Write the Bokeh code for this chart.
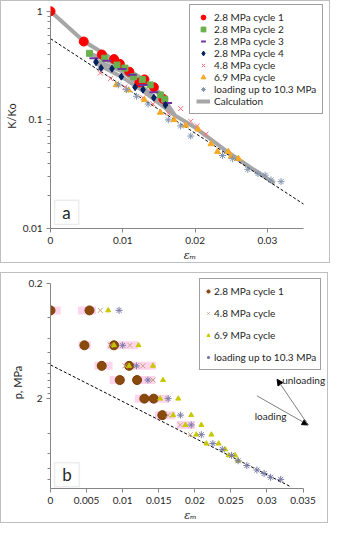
from bokeh.plotting import figure
from bokeh.models import (Range1d, FixedTicker, Legend, LegendItem, Label, BoxAnnotation,
                          Arrow, NormalHead, CustomJSTickFormatter)
from bokeh.layouts import column
from bokeh.embed import file_html
from bokeh.resources import INLINE

# ---------------- Panel a data (K/Ko vs eps_m) ----------------
a_c1_eps = [0, 0.0046, 0.0071, 0.0088, 0.0096, 0.0109, 0.0123, 0.0130, 0.0143, 0.0156]
a_c1_k = [1.0, 0.527, 0.40, 0.363, 0.328, 0.278, 0.221, 0.236, 0.20, 0.156]
a_c2_eps = [0.0054, 0.0075, 0.0092, 0.0103, 0.0115, 0.0127, 0.0138, 0.0152, 0.0158]
a_c2_k = [0.41, 0.37, 0.32, 0.30, 0.25, 0.235, 0.21, 0.17, 0.155]
a_c3_eps = [0.0060, 0.0078, 0.0099, 0.0113, 0.0128, 0.0143, 0.0162]
a_c3_k = [0.37, 0.35, 0.295, 0.26, 0.21, 0.18, 0.143]
a_c4_eps = [0.0063, 0.0070, 0.0085, 0.0098, 0.0117, 0.0128, 0.0143, 0.0159]
a_c4_k = [0.34, 0.30, 0.296, 0.25, 0.20, 0.19, 0.16, 0.137]
a_48_eps = [0.0069, 0.0083, 0.0103, 0.0128, 0.0142, 0.0163, 0.0180, 0.0194, 0.0203, 0.0215]
a_48_k = [0.27, 0.24, 0.20, 0.16, 0.14, 0.115, 0.127, 0.097, 0.088, 0.074]
a_69_eps = [0.0091, 0.0108, 0.0130, 0.0152, 0.0171, 0.0187, 0.0204, 0.0222, 0.0231, 0.0246, 0.0250, 0.0260]
a_69_k = [0.21, 0.188, 0.153, 0.117, 0.100, 0.089, 0.082, 0.060, 0.051, 0.051, 0.046, 0.044]
a_ld_eps = [0.0094, 0.0105, 0.0119, 0.0135, 0.0163, 0.0180, 0.0194, 0.0238, 0.0252, 0.0273, 0.0287, 0.0297, 0.0305, 0.0319]
a_ld_k = [0.21, 0.19, 0.165, 0.14, 0.10, 0.088, 0.071, 0.047, 0.044, 0.035, 0.032, 0.031, 0.028, 0.027]
calc1_eps = [0, 0.0046, 0.0071, 0.0096, 0.0123, 0.0143, 0.0172]
calc1_k = [1.0, 0.53, 0.42, 0.33, 0.24, 0.20, 0.11]
calc2_eps = [0.0054, 0.0075, 0.0103, 0.0127, 0.0152, 0.0172]
calc2_k = [0.41, 0.36, 0.30, 0.24, 0.175, 0.11]
calc3_eps = [0.0060, 0.0099, 0.0128, 0.0172]
calc3_k = [0.36, 0.28, 0.20, 0.11]
calc5_eps = [0.0063, 0.0098, 0.0128, 0.0172]
calc5_k = [0.33, 0.25, 0.185, 0.11]
calc4_eps = [0.0172, 0.0200, 0.0250, 0.0310]
calc4_k = [0.11, 0.085, 0.048, 0.026]
a_fit_eps = [0, 0.035]
a_fit_k = [0.56, 0.0168]

a_xticks = [0, 0.01, 0.02, 0.03]
a_yticks = [0.01, 0.1, 1]
a_yminor = [0.02, 0.03, 0.04, 0.05, 0.06, 0.07, 0.08, 0.09, 0.2, 0.3, 0.4, 0.5, 0.6, 0.7, 0.8, 0.9]

# ---------------- Panel b data (p vs eps_m) ----------------
b_c1_eps = [0, 0.0054, 0.0047, 0.0088, 0.0071, 0.0109, 0.0096, 0.0120, 0.0130, 0.0143, 0.0155]
b_c1_p = [0.344, 0.344, 0.69, 0.69, 1.04, 1.04, 1.38, 1.38, 2.0, 2.0, 2.78]
b_48_eps = [0.0069, 0.0083, 0.0110, 0.0103, 0.0128, 0.0142, 0.0163, 0.0180, 0.0194]
b_48_p = [0.344, 0.69, 0.69, 1.04, 1.04, 1.38, 2.78, 3.38, 4.1]
b_69_eps = [0.0080, 0.0088, 0.0122, 0.0109, 0.0142, 0.0156, 0.0152, 0.0177, 0.0170, 0.0195,
            0.0187, 0.0209, 0.0202, 0.0223, 0.0216, 0.0233, 0.0242, 0.0247, 0.0256, 0.0260]
b_69_p = [0.344, 0.69, 0.69, 1.04, 1.04, 1.38, 2.0, 2.0, 2.78, 2.78,
          3.38, 3.38, 4.1, 4.1, 4.9, 4.9, 5.5, 6.2, 6.2, 6.9]
b_ld_eps = [0.0095, 0.0100, 0.0119, 0.0135, 0.0163, 0.0180, 0.0195, 0.0209, 0.0225, 0.0238,
            0.0251, 0.0260, 0.0272, 0.0286, 0.0296, 0.0305, 0.0319]
b_ld_p = [0.344, 0.69, 1.04, 1.38, 2.0, 2.78, 3.38, 4.1, 4.9, 5.5,
          6.2, 6.9, 7.6, 8.3, 8.9, 9.6, 10.0]
band_start = [-0.0007, 0.0038, 0.0039, 0.0079, 0.0061, 0.0103, 0.0082, 0.0114, 0.0117, 0.0145, 0.0175]
band_end = [0.0014, 0.0063, 0.0056, 0.0121, 0.0086, 0.0146, 0.0103, 0.0145, 0.0165, 0.0173, 0.0200]
band_p = [0.344, 0.344, 0.69, 0.69, 1.04, 1.04, 1.38, 1.38, 2.0, 2.78, 3.38]
b_fit_eps = [0, 0.0333]
b_fit_p = [1.02, 11.6]

b_xticks = [0, 0.005, 0.01, 0.015, 0.02, 0.025, 0.03, 0.035]
b_yticks = [0.2, 2]
b_yminor = [0.4, 0.6, 0.8, 1.0, 1.2, 1.4, 1.6, 1.8, 4, 6, 8, 10]

FONT = "Lato"
AX = "#868686"
TXT = "#262626"
fmt = CustomJSTickFormatter(code="return String(tick);")


def style_axes(p):
    p.grid.visible = False
    p.outline_line_color = None
    p.background_fill_color = "white"
    p.border_fill_color = "white"
    for ax in (p.xaxis[0], p.yaxis[0]):
        ax.axis_line_color = AX
        ax.major_tick_line_color = AX
        ax.minor_tick_line_color = AX
        ax.major_tick_out = 4
        ax.major_tick_in = 0
        ax.minor_tick_out = 3
        ax.minor_tick_in = 0
        ax.major_label_text_font = FONT
        ax.major_label_text_font_size = "10px"
        ax.major_label_text_color = TXT
        ax.axis_label_text_font = FONT
        ax.axis_label_text_font_size = "11px"
        ax.axis_label_text_font_style = "normal"
        ax.axis_label_text_color = TXT
        ax.axis_label_standoff = 2
        ax.formatter = fmt
    p.xaxis[0].minor_tick_line_color = None
    p.xaxis[0].major_label_standoff = 4
    p.yaxis[0].major_label_standoff = 4
    p.styles = {"border": "1px solid #bfbfbf"}


# ---------------- Figure a ----------------
p1 = figure(frame_width=277, frame_height=223, x_range=Range1d(0, 0.0386), y_range=Range1d(0.01, 1.18),
            y_axis_type="log", output_backend="svg", toolbar_location=None,
            min_border_left=47, min_border_right=2, min_border_top=2, min_border_bottom=33)
style_axes(p1)
p1.xaxis[0].ticker = FixedTicker(ticks=a_xticks)
p1.yaxis[0].ticker = FixedTicker(ticks=a_yticks, minor_ticks=a_yminor)
p1.xaxis[0].bounds = (0, 0.035)
p1.yaxis[0].bounds = (0.01, 1)
p1.xaxis[0].axis_label = "εₘ"
p1.xaxis[0].axis_label_text_font = "DejaVu Serif"
p1.xaxis[0].axis_label_text_font_style = "italic"
p1.yaxis[0].axis_label = "K/Ko"

CALC = "#a6a6a6"
rc = None
for ex, ky in ((calc1_eps, calc1_k), (calc2_eps, calc2_k), (calc3_eps, calc3_k),
               (calc5_eps, calc5_k), (calc4_eps, calc4_k)):
    r = p1.line(ex, ky, line_color=CALC, line_width=4)
    if rc is None:
        rc = r
p1.line(a_fit_eps, a_fit_k, line_color="black", line_width=1, line_dash="3 2")
r1 = p1.scatter(a_c1_eps, a_c1_k, marker="circle", size=9, fill_color="#ff0000", line_color="#ff0000")
r2 = p1.scatter(a_c2_eps, a_c2_k, marker="square", size=6, fill_color="#6ab04c", line_color="#6ab04c")
r3 = p1.scatter(a_c3_eps, a_c3_k, marker="dash", size=9, line_color="#7030a0", line_width=2)
r4 = p1.scatter(a_c4_eps, a_c4_k, marker="diamond", size=7, fill_color="#002060", line_color="#002060")
r5 = p1.scatter(a_48_eps, a_48_k, marker="x", size=7, line_color="#ff6f78", line_width=1)
r6 = p1.scatter(a_69_eps, a_69_k, marker="triangle", size=6, fill_color="#f7a823", line_color="#f7a823")
r7 = p1.scatter(a_ld_eps, a_ld_k, marker="asterisk", size=7, line_color="#8497b0", line_width=1)

leg1 = Legend(items=[
    LegendItem(label="2.8 MPa cycle 1", renderers=[r1]),
    LegendItem(label="2.8 MPa cycle 2", renderers=[r2]),
    LegendItem(label="2.8 MPa cycle 3", renderers=[r3]),
    LegendItem(label="2.8 MPa cycle 4", renderers=[r4]),
    LegendItem(label="4.8 MPa cycle", renderers=[r5]),
    LegendItem(label="6.9 MPa cycle", renderers=[r6]),
    LegendItem(label="loading up to 10.3 MPa", renderers=[r7]),
    LegendItem(label="Calculation", renderers=[rc]),
], location=(139, 114))
leg1.label_text_font = FONT
leg1.label_text_font_size = "10px"
leg1.label_text_color = TXT
leg1.label_height = 12
leg1.glyph_height = 12
leg1.glyph_width = 14
leg1.label_standoff = 4
leg1.spacing = 0
leg1.padding = 6
leg1.margin = 0
leg1.border_line_color = "#404040"
leg1.border_line_width = 1.5
leg1.background_fill_color = "white"
leg1.background_fill_alpha = 1
p1.add_layout(leg1)

p1.add_layout(BoxAnnotation(left=0.00056, right=0.0039, bottom=0.0109, top=0.0182,
                            fill_color="white", fill_alpha=1, line_color="#bfbfbf", line_width=1.5))
p1.add_layout(Label(x=0.0022, y=0.0139, text="a", text_align="center", text_baseline="middle",
                    text_font=FONT, text_font_size="17px", text_color=TXT))

# ---------------- Figure b ----------------
p2 = figure(frame_width=278, frame_height=210, x_range=Range1d(0, 0.0388), y_range=Range1d(12, 0.175),
            y_axis_type="log", output_backend="svg", toolbar_location=None,
            min_border_left=46, min_border_right=2, min_border_top=3, min_border_bottom=32)
style_axes(p2)
p2.xaxis[0].ticker = FixedTicker(ticks=b_xticks)
p2.yaxis[0].ticker = FixedTicker(ticks=b_yticks, minor_ticks=b_yminor)
p2.xaxis[0].bounds = (0, 0.035)
p2.yaxis[0].bounds = (0.2, 12)
p2.xaxis[0].axis_label = "εₘ"
p2.xaxis[0].axis_label_text_font = "DejaVu Serif"
p2.xaxis[0].axis_label_text_font_style = "italic"
p2.yaxis[0].axis_label = "p, MPa"

p2.segment(band_start, band_p, band_end, band_p, line_color="#ffd0ec", line_width=8, line_alpha=0.9)
p2.line(b_fit_eps, b_fit_p, line_color="black", line_width=1, line_dash="3 2")
s1 = p2.scatter(b_c1_eps, b_c1_p, marker="circle", size=9, fill_color="#8a4a0c", line_color="#7a3f08")
s2 = p2.scatter(b_48_eps, b_48_p, marker="x", size=7, line_color="#c9a48a", line_width=1)
s3 = p2.scatter(b_69_eps, b_69_p, marker="triangle", size=5, fill_color="#c8c800", line_color="#c8c800")
s4 = p2.scatter(b_ld_eps, b_ld_p, marker="asterisk", size=7, line_color="#7a7aa8", line_width=1)

leg2 = Legend(items=[
    LegendItem(label="2.8 MPa cycle 1", renderers=[s1]),
    LegendItem(label="4.8 MPa cycle", renderers=[s2]),
    LegendItem(label="6.9 MPa cycle", renderers=[s3]),
    LegendItem(label="loading up to 10.3 MPa", renderers=[s4]),
], location=(154, 118))
leg2.label_text_font = FONT
leg2.label_text_font_size = "10px"
leg2.label_text_color = TXT
leg2.label_height = 16
leg2.glyph_height = 16
leg2.glyph_width = 8
leg2.label_standoff = 2
leg2.spacing = 6
leg2.padding = 4
leg2.margin = 0
leg2.border_line_color = "#404040"
leg2.border_line_width = 1.5
leg2.background_fill_color = "white"
leg2.background_fill_alpha = 1
p2.add_layout(leg2)

p2.add_layout(Arrow(end=NormalHead(size=6, fill_color="black", line_color="black"),
                    x_start=0.0286, y_start=1.89, x_end=0.0357, y_end=3.38,
                    line_color="#7f7f7f", line_width=1))
p2.add_layout(Arrow(end=NormalHead(size=6, fill_color="black", line_color="black"),
                    x_start=0.0357, y_start=3.38, x_end=0.0314, y_end=1.36,
                    line_color="#7f7f7f", line_width=1))
p2.add_layout(Label(x=0.0321, y=1.38, text="unloading", text_align="left", text_baseline="middle",
                    text_font=FONT, text_font_size="10px", text_color=TXT))
p2.add_layout(Label(x=0.0305, y=2.83, text="loading", text_align="center", text_baseline="middle",
                    text_font=FONT, text_font_size="10px", text_color=TXT))
p2.add_layout(BoxAnnotation(left=0.00056, right=0.004, top=7.18, bottom=11.6,
                            fill_color="white", fill_alpha=1, line_color="#bfbfbf", line_width=1.5))
p2.add_layout(Label(x=0.0023, y=9.1, text="b", text_align="center", text_baseline="middle",
                    text_font=FONT, text_font_size="17px", text_color=TXT))

layout = column(p1, p2, spacing=9)
open("out.html", "w").write(file_html(layout, INLINE))
